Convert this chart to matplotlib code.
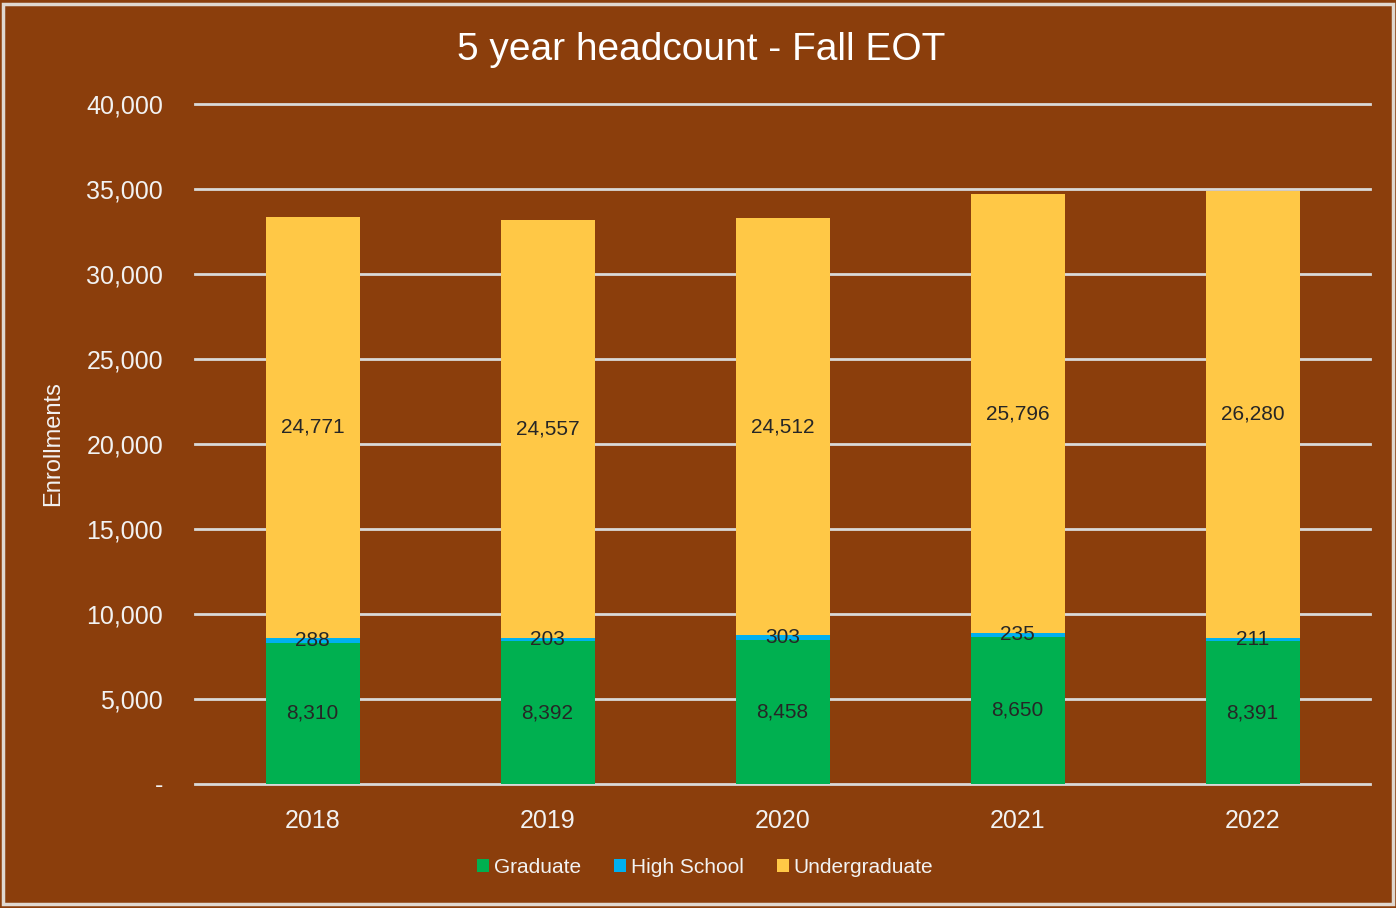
import matplotlib
matplotlib.use("Agg")
import matplotlib.pyplot as plt
import numpy as np
from matplotlib.patches import Rectangle
from matplotlib.ticker import FuncFormatter

plt.rcParams['font.family'] = ['Liberation Sans', 'DejaVu Sans']

years = ["2018", "2019", "2020", "2021", "2022"]
graduate = [8310, 8392, 8458, 8650, 8391]
high_school = [288, 203, 303, 235, 211]
undergrad = [24771, 24557, 24512, 25796, 26280]

bg = "#8B3E0C"
grid_col = "#D9D9D9"
text_col = "#F2F2F2"

fig = plt.figure(figsize=(13.96, 9.08), dpi=100, facecolor=bg)
fig.patches.append(Rectangle((0.002, 0.004), 0.996, 0.992, transform=fig.transFigure,
                             fill=False, edgecolor="#E0D8D0", linewidth=2.5))
ax = fig.add_axes([0.1397, 0.1366, 0.8417, 0.7489])
ax.set_facecolor(bg)

x = np.arange(len(years))
w = 0.40
g = np.array(graduate)
h = np.array(high_school)
u = np.array(undergrad)

series = [
    ("Graduate", g, np.zeros(len(g)), "#00B050"),
    ("High School", h, g, "#00B0F0"),
    ("Undergraduate", u, g + h, "#FFC846"),
]
for name, vals, bottom, col in series:
    ax.bar(x, vals, w, bottom=bottom, color=col, label=name, zorder=3)
    for xi, v, b in zip(x, vals, bottom):
        ax.text(xi, b + v / 2, f"{v:,}", ha="center", va="center",
                fontsize=15, color="#262626", zorder=4)

ax.set_xlim(-0.5, 4.5)
ax.set_ylim(0, 40000)
ax.set_yticks(np.arange(0, 40001, 5000))
ax.yaxis.set_major_formatter(FuncFormatter(lambda v, p: "-" if v == 0 else f"{int(v):,}"))
for yv in np.arange(0, 40001, 5000):
    ax.axhline(yv, color=grid_col, linewidth=2, zorder=1, clip_on=False)
for s in ax.spines.values():
    s.set_visible(False)
ax.tick_params(axis="both", length=0, colors=text_col, labelsize=18)
ax.tick_params(axis="y", pad=23)
ax.tick_params(axis="x", pad=18)
ax.set_xticks(x)
ax.set_xticklabels(years)

ax.set_ylabel("Enrollments", color=text_col, fontsize=17, labelpad=16)
fig.text(0.502, 0.945, "5 year headcount - Fall EOT", ha="center", va="center",
         color="white", fontsize=28)

fig.legend(loc="center", bbox_to_anchor=(0.505, 0.045), ncol=3, frameon=False,
           fontsize=15, labelcolor=text_col, handlelength=0.6, handleheight=0.6,
           handletextpad=0.2, columnspacing=1.6)

fig.savefig("out.png", dpi=100, facecolor=bg)
